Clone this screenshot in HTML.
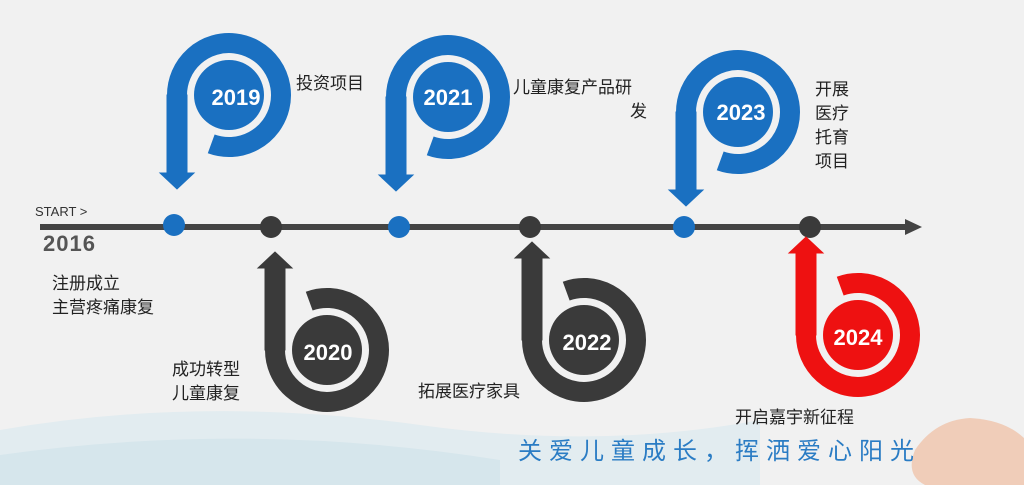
<!DOCTYPE html>
<html><head><meta charset="utf-8"><style>
body{margin:0;width:1024px;height:485px;background:#f1f1f1;overflow:hidden;font-family:"Liberation Sans","Noto Sans CJK SC",sans-serif}
svg{position:absolute;left:0;top:0}
.t{position:absolute;font-size:17px;color:#222;line-height:24px;font-family:"Liberation Sans","Noto Sans CJK SC",sans-serif}
</style></head><body>
<svg width="1024" height="485" viewBox="0 0 1024 485">
<path d="M0 430 Q200 395 420 425 Q600 450 760 420 L760 485 L0 485Z" fill="#e2ecf0"/>
<path d="M0 455 Q250 420 500 460 L500 485 L0 485Z" fill="#d6e6ec"/>
<path d="M915 450 Q935 420 970 418 Q1005 420 1024 438 L1024 485 L925 485 Q905 475 915 450Z" fill="#f0cdb9"/>
<line x1="40" y1="227" x2="908" y2="227" stroke="#444" stroke-width="6"/>
<polygon points="905,219 922,227 905,235" fill="#444"/>
<g fill="#1a70c1"><circle cx="174" cy="225" r="11"/><circle cx="399" cy="227" r="11"/><circle cx="684" cy="227" r="11"/></g>
<g fill="#3a3a3a"><circle cx="271" cy="227" r="11"/><circle cx="530" cy="227" r="11"/><circle cx="810" cy="227" r="11"/></g>
<defs>
<g id="p">
<path d="M-52 0 A52 52 0 1 1 -17.8 48.9" fill="none" stroke-width="20"/>
<rect x="-62" y="0" width="20" height="78"/>
<polygon points="-69,78 -35,78 -52,94"/>
<circle r="35" stroke="none"/>
</g>
<g id="b">
<path d="M-52 0 A52 52 0 1 0 -17.8 -48.9" fill="none" stroke-width="20"/>
<rect x="-62" y="-82" width="20" height="82"/>
<polygon points="-69,-82 -35,-82 -52,-98"/>
<circle r="35" stroke="none"/>
</g>
</defs>
<use href="#p" x="229" y="95" fill="#1a70c1" stroke="#1a70c1"/>
<use href="#p" x="448" y="97" fill="#1a70c1" stroke="#1a70c1"/>
<use href="#p" x="738" y="112" fill="#1a70c1" stroke="#1a70c1"/>
<use href="#b" x="327" y="350" fill="#3a3a3a" stroke="#3a3a3a"/>
<use href="#b" x="584" y="340" fill="#3a3a3a" stroke="#3a3a3a"/>
<use href="#b" x="858" y="335" fill="#ee1111" stroke="#ee1111"/>
<g font-family="Liberation Sans,sans-serif" font-weight="bold" font-size="22" fill="#fff" text-anchor="middle">
<text x="236" y="105">2019</text><text x="448" y="105">2021</text><text x="741" y="120">2023</text>
<text x="328" y="360">2020</text><text x="587" y="350">2022</text><text x="858" y="345">2024</text>
</g>
<text x="35" y="216" font-size="13" fill="#333" font-family="Liberation Sans,sans-serif">START &gt;</text>
<text x="43" y="251" font-size="22" font-weight="bold" fill="#555" letter-spacing="1" font-family="Liberation Sans,sans-serif">2016</text>
</svg>
<div class="t" style="left:296px;top:72px">投资项目</div>
<div class="t" style="left:513px;top:76px">儿童康复产品研<br><span style="padding-left:117px">发</span></div>
<div class="t" style="left:815px;top:78px">开展<br>医疗<br>托育<br>项目</div>
<div class="t" style="left:52px;top:272px">注册成立<br>主营疼痛康复</div>
<div class="t" style="left:172px;top:358px">成功转型<br>儿童康复</div>
<div class="t" style="left:418px;top:380px">拓展医疗家具</div>
<div class="t" style="left:735px;top:406px">开启嘉宇新征程</div>
<div class="t" style="left:518px;top:437px;font-size:24px;color:#2a7cc4;letter-spacing:7px;line-height:30px">关爱儿童成长，挥洒爱心阳光</div>
</body></html>
